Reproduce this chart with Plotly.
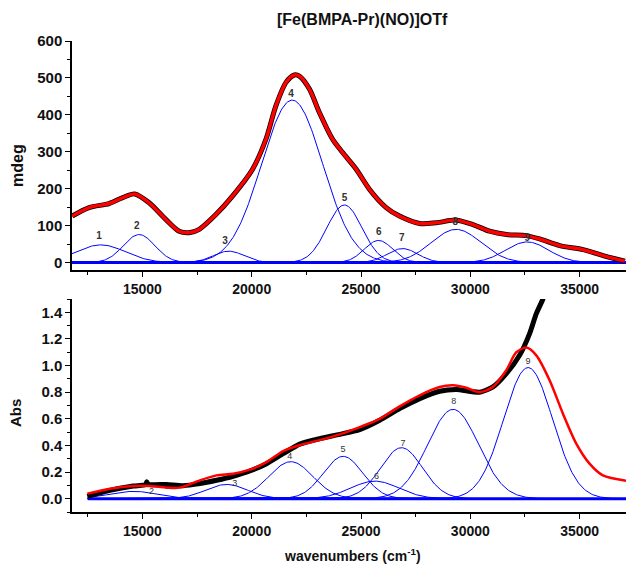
import numpy as np
import plotly.graph_objects as go
from plotly.subplots import make_subplots

TITLE = "[Fe(BMPA-Pr)(NO)]OTf"

# ---- MCD spectrum (mdeg) ----
mcd_x = [11790, 12560, 13480, 14100, 14650, 15310, 16070, 16680, 17140, 17600,
         18360, 19120, 20040, 20650, 21110, 21570, 21950, 22180, 22640, 23090,
         23700, 24160, 24780, 25390, 26150, 26760, 27680, 28440, 29360, 30120,
         30880, 31650, 32560, 33170, 34090, 35160, 36070, 37070]
mcd_exp = [126, 149, 160, 176, 186, 162, 117, 85, 81, 90,
           130, 180, 253, 334, 425, 488, 508, 505, 470, 407,
           334, 298, 253, 198, 149, 126, 106, 108, 115, 103,
           85, 76, 73, 64, 46, 35, 19, 4]
mcd_fit = [126, 149, 160, 176, 186, 162, 117, 85, 81, 90,
           130, 180, 253, 334, 425, 488, 508, 505, 470, 407,
           334, 298, 253, 198, 149, 126, 106, 108, 115, 103,
           85, 76, 73, 64, 46, 35, 19, 4]

# Gaussian bands of the MCD fit: centre (cm-1), amplitude (mdeg), sigma (cm-1)
mcd_band_id = ["1", "2", "3", "4", "5", "6", "7", "8", "9"]
mcd_center = [13100, 14850, 18950, 21850, 24240, 25800, 26900, 29350, 32600]
mcd_height = [48, 76, 31, 440, 156, 60, 38, 90, 56]
mcd_sigma = [1130, 720, 700, 1400, 800, 650, 700, 1130, 980]
mcd_label_x = [13016, 14744, 18774, 21798, 24240, 25811, 26864, 29311, 32608]
mcd_label_y = [70, 97, 56, 456, 174, 82, 65, 108, 65]

# ---- absorption spectrum ----
abs_x = [12480, 13515, 14580, 15150, 15200, 15260, 16106, 16865, 17628, 18391,
         19150, 19913, 20676, 21435, 22198, 23112, 24026, 24940, 25854, 26768,
         27683, 28597, 29360, 30425, 31033, 31645, 32253, 32710, 33016, 33318,
         33700]
abs_exp = [0.017, 0.062, 0.095, 0.106, 0.128, 0.108, 0.107, 0.098, 0.113, 0.138,
           0.168, 0.208, 0.263, 0.338, 0.410, 0.451, 0.483, 0.519, 0.589, 0.677,
           0.752, 0.807, 0.820, 0.800, 0.840, 0.940, 1.077, 1.240, 1.390, 1.500,
           1.700]
abs_fit_x = [12480, 13515, 14580, 15343, 16106, 16714, 17628, 18391, 19150, 19913,
             20676, 21435, 22198, 23112, 24026, 24940, 25854, 26768, 27683, 28597,
             29205, 29814, 30425, 31033, 31645, 32102, 32560, 33016, 33625, 34232,
             34845, 35453, 36061, 37120]
abs_fit = [0.038, 0.075, 0.095, 0.095, 0.083, 0.083, 0.138, 0.175, 0.188, 0.218,
           0.275, 0.358, 0.402, 0.440, 0.483, 0.538, 0.600, 0.694, 0.777, 0.839,
           0.852, 0.834, 0.800, 0.840, 0.965, 1.100, 1.135, 1.077, 0.890, 0.640,
           0.414, 0.263, 0.175, 0.135]

# Gaussian bands of the absorption fit: centre (cm-1), amplitude, sigma (cm-1)
abs_band_id = ["2", "3", "4", "5", "6", "7", "8", "9"]
abs_center = [14600, 18850, 21790, 24180, 25630, 26850, 29210, 32640]
abs_height = [0.055, 0.107, 0.278, 0.318, 0.132, 0.383, 0.671, 0.985]
abs_sigma = [1100, 950, 1000, 900, 1100, 960, 1165, 1120]
abs_label_x = [15420, 19228, 21741, 24177, 25704, 26919, 29237, 32633]
abs_label_y = [0.050, 0.113, 0.313, 0.368, 0.162, 0.413, 0.726, 1.032]

X_RANGE = [11780, 37120]
BLUE = "#0000ff"


def gaussian(x, c, h, s):
    return h * np.exp(-((x - c) ** 2) / (2.0 * s ** 2))


fig = make_subplots(rows=2, cols=1, shared_xaxes=False, vertical_spacing=0.06)

# top panel: bands, baseline, experiment, fit
grid_top = np.linspace(X_RANGE[0], X_RANGE[1], 600)
for c, h, s in zip(mcd_center, mcd_height, mcd_sigma):
    fig.add_trace(go.Scatter(x=grid_top, y=gaussian(grid_top, c, h, s), mode="lines",
                             line=dict(color=BLUE, width=1), hoverinfo="skip",
                             showlegend=False), row=1, col=1)
fig.add_trace(go.Scatter(x=X_RANGE, y=[0, 0], mode="lines",
                         line=dict(color=BLUE, width=3), showlegend=False), row=1, col=1)
fig.add_trace(go.Scatter(x=mcd_x, y=mcd_exp, mode="lines",
                         line=dict(color="black", width=5, shape="spline", smoothing=0.8),
                         showlegend=False), row=1, col=1)
fig.add_trace(go.Scatter(x=mcd_x, y=mcd_fit, mode="lines",
                         line=dict(color="#ff0000", width=3.5, shape="spline", smoothing=0.8),
                         showlegend=False), row=1, col=1)
fig.add_trace(go.Scatter(x=mcd_label_x, y=mcd_label_y, mode="text", text=mcd_band_id,
                         textfont=dict(family="Liberation Sans", size=10, color="#333333",
                                       weight="bold"),
                         showlegend=False), row=1, col=1)

# bottom panel
grid_bot = np.linspace(12500, X_RANGE[1], 600)
for c, h, s in zip(abs_center, abs_height, abs_sigma):
    fig.add_trace(go.Scatter(x=grid_bot, y=gaussian(grid_bot, c, h, s), mode="lines",
                             line=dict(color=BLUE, width=1), hoverinfo="skip",
                             showlegend=False), row=2, col=1)
fig.add_trace(go.Scatter(x=[12500, X_RANGE[1]], y=[0, 0], mode="lines",
                         line=dict(color=BLUE, width=3), showlegend=False), row=2, col=1)
fig.add_trace(go.Scatter(x=abs_x, y=abs_exp, mode="lines",
                         line=dict(color="black", width=5, shape="spline", smoothing=0.6),
                         showlegend=False), row=2, col=1)
fig.add_trace(go.Scatter(x=abs_fit_x, y=abs_fit, mode="lines",
                         line=dict(color="#ff0000", width=2.5, shape="spline", smoothing=0.8),
                         showlegend=False), row=2, col=1)
fig.add_trace(go.Scatter(x=abs_label_x, y=abs_label_y, mode="text", text=abs_band_id,
                         textfont=dict(family="Liberation Sans", size=9, color="#333333"),
                         showlegend=False), row=2, col=1)

tick_font = dict(family="Liberation Sans", size=14, color="#111111", weight="bold")
ytick_font = dict(family="Liberation Sans", size=15, color="#111111", weight="bold")

xaxis_common = dict(range=X_RANGE, tickvals=[15000, 20000, 25000, 30000, 35000],
                    ticktext=["15000", "20000", "25000", "30000", "35000"],
                    showgrid=False, zeroline=False, showline=True, linecolor="black",
                    linewidth=1.5, ticks="outside", ticklen=5, tickwidth=1.2,
                    tickcolor="black", tickfont=tick_font,
                    minor=dict(dtick=2500, tick0=0, ticks="outside", ticklen=3,
                               tickcolor="black", tickwidth=1))

fig.update_xaxes(**xaxis_common, row=1, col=1)
fig.update_xaxes(**xaxis_common, row=2, col=1)

fig.update_yaxes(range=[-20, 600], tickvals=[0, 100, 200, 300, 400, 500, 600],
                 showgrid=False, zeroline=False, showline=True, linecolor="black",
                 linewidth=1.5, ticks="outside", ticklen=5, tickwidth=1.2,
                 tickcolor="black", tickfont=ytick_font,
                 minor=dict(dtick=50, tick0=0, ticks="outside", ticklen=3,
                            tickcolor="black", tickwidth=1),
                 row=1, col=1)
fig.update_yaxes(range=[-0.1, 1.5], tickvals=[0, 0.2, 0.4, 0.6, 0.8, 1.0, 1.2, 1.4],
                 ticktext=["0.0", "0.2", "0.4", "0.6", "0.8", "1.0", "1.2", "1.4"],
                 showgrid=False, zeroline=False, showline=True, linecolor="black",
                 linewidth=1.5, ticks="outside", ticklen=5, tickwidth=1.2,
                 tickcolor="black", tickfont=ytick_font,
                 minor=dict(dtick=0.1, tick0=0, ticks="outside", ticklen=3,
                            tickcolor="black", tickwidth=1),
                 row=2, col=1)

# panel placement
fig.update_layout(
    yaxis=dict(domain=[0.5138, 1.0]),
    yaxis2=dict(domain=[0.0, 0.4522]),
    xaxis=dict(domain=[0, 1]),
    xaxis2=dict(domain=[0, 1]),
)

title_font = dict(family="Liberation Sans", size=16, color="#111111", weight="bold")
fig.update_layout(
    width=626, height=564,
    margin=dict(l=72, r=0, t=41, b=52),
    paper_bgcolor="white", plot_bgcolor="white",
    showlegend=False,
    annotations=[
        dict(text=TITLE, x=0.5235, y=1.045, xref="paper", yref="paper",
             showarrow=False, font=title_font, xanchor="center", yanchor="middle"),
        dict(text="mdeg", x=-0.0993, y=0.7367, xref="paper", yref="paper",
             showarrow=False, textangle=-90, font=title_font,
             xanchor="center", yanchor="middle"),
        dict(text="Abs", x=-0.103, y=0.210, xref="paper", yref="paper",
             showarrow=False, textangle=-90,
             font=dict(family="Liberation Sans", size=15, color="#111111", weight="bold"),
             xanchor="center", yanchor="middle"),
        dict(text="wavenumbers (cm<sup>-1</sup>)", x=0.507, y=-0.0913,
             xref="paper", yref="paper", showarrow=False,
             font=dict(family="Liberation Sans", size=14, color="#111111", weight="bold"),
             xanchor="center", yanchor="middle"),
    ],
)

fig.write_html("out.html")
